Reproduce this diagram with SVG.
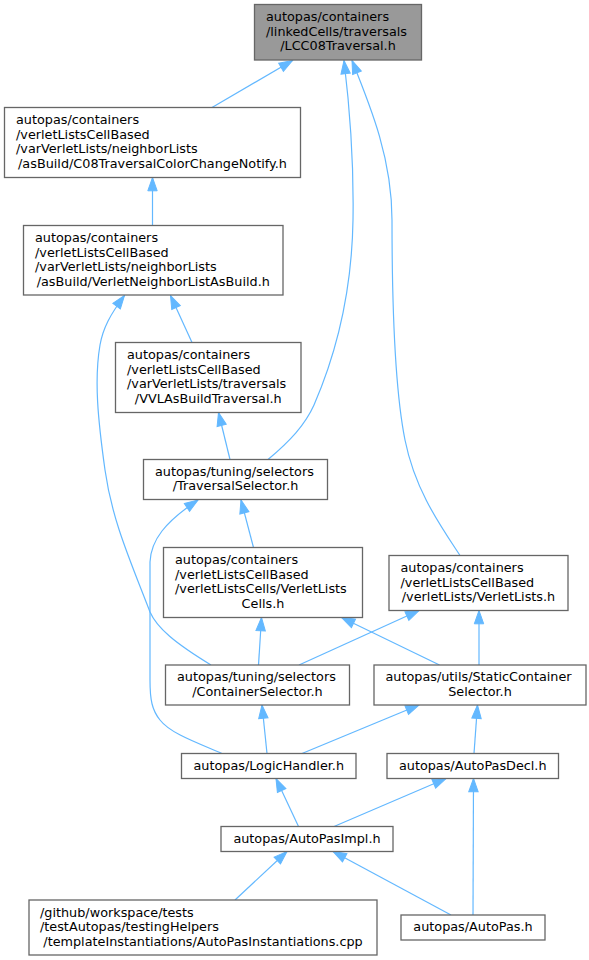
<svg xmlns="http://www.w3.org/2000/svg" width="589" height="960" viewBox="0 0 589 960">
<defs>
<style>
.n rect{fill:#ffffff;stroke:#666666;stroke-width:1.3}
#nA rect{fill:#999999}
text{font-family:"DejaVu Sans","Liberation Sans",sans-serif;font-size:12.8px;fill:#000}
.m{text-anchor:middle}
.e path{fill:none;stroke:#63b8ff;stroke-width:1.2;marker-end:url(#arr)}
</style>
<marker id="arr" markerUnits="userSpaceOnUse" markerWidth="16" markerHeight="12" refX="13.3" refY="5" orient="auto" overflow="visible">
<path d="M0,0.3 L13.3,5 L0,9.7 Z" fill="#63b8ff" stroke="#63b8ff" stroke-width="1"/>
</marker>
</defs>
<rect width="589" height="960" fill="#ffffff"/>
<g id="edges" class="e">
<path d="M212,107.5 L292.5,60.5"/>
<path d="M268,459.5 C290,441 305,425 314,405 C340,345 352,280 353,220 C354,160 350,110 344,60.5"/>
<path d="M460,555.5 C440,525 415,490 405,440 C395,390 392,300 392,220 C392,160 372,110 352,60.5"/>
<path d="M152.5,225.5 L152.5,177.5"/>
<path d="M192,342.5 L170.5,295.5"/>
<path d="M211,665 C175,643 157,628 150,612 C130,560 112,520 105,470 C98,420 94,380 100,345 C103,328 110,315 124.5,295.5"/>
<path d="M230,459.5 L218.5,412.5"/>
<path d="M253.5,547.5 L241,500"/>
<path d="M222,753.5 C195,742 170,733 160,720 C152,710 150,700 150,680 L150,562 C151,540 165,522 198,500"/>
<path d="M258.5,665 L261.5,617.5"/>
<path d="M439.5,665 L341.5,617.5"/>
<path d="M299,665 L419,610.5"/>
<path d="M479,665 L479,610.5"/>
<path d="M267,753.5 L262,705"/>
<path d="M302,753.5 L419,705"/>
<path d="M474,753.5 L477.5,705"/>
<path d="M298.5,826.5 L276,778.5"/>
<path d="M334,826.5 L446,778.5"/>
<path d="M473,915 L473.5,778.5"/>
<path d="M235,900 L287,851.5"/>
<path d="M451,915 L333,851.5"/>
</g>
<g id="nA" class="n">
<rect x="254.5" y="4.5" width="167" height="55.5"/>
<text x="266" y="21.25">autopas/containers</text>
<text x="266" y="35.75">/linkedCells/traversals</text>
<text class="m" x="338" y="50.25">/LCC08Traversal.h</text>
</g>
<g id="nB" class="n">
<rect x="4.5" y="107.5" width="296" height="70"/>
<text x="16" y="124.25">autopas/containers</text>
<text x="16" y="138.75">/verletListsCellBased</text>
<text x="16" y="153.25">/varVerletLists/neighborLists</text>
<text class="m" x="152.5" y="167.75">/asBuild/C08TraversalColorChangeNotify.h</text>
</g>
<g id="nC" class="n">
<rect x="23.5" y="225.5" width="259.5" height="69.5"/>
<text x="35" y="242">autopas/containers</text>
<text x="35" y="256.5">/verletListsCellBased</text>
<text x="35" y="271">/varVerletLists/neighborLists</text>
<text class="m" x="153.25" y="285.5">/asBuild/VerletNeighborListAsBuild.h</text>
</g>
<g id="nD" class="n">
<rect x="115.5" y="342.5" width="185.5" height="70"/>
<text x="127" y="359.25">autopas/containers</text>
<text x="127" y="373.75">/verletListsCellBased</text>
<text x="127" y="388.25">/varVerletLists/traversals</text>
<text class="m" x="208.25" y="402.75">/VVLAsBuildTraversal.h</text>
</g>
<g id="nE" class="n">
<rect x="143.5" y="459.5" width="184" height="40"/>
<text x="155" y="475.75">autopas/tuning/selectors</text>
<text class="m" x="235.5" y="490.25">/TraversalSelector.h</text>
</g>
<g id="nF" class="n">
<rect x="163.5" y="547.5" width="199" height="70"/>
<text x="175" y="564.25">autopas/containers</text>
<text x="175" y="578.75">/verletListsCellBased</text>
<text x="175" y="593.25">/verletListsCells/VerletLists</text>
<text class="m" x="263" y="607.75">Cells.h</text>
</g>
<g id="nG" class="n">
<rect x="389" y="555.5" width="179" height="55"/>
<text x="400.5" y="572">autopas/containers</text>
<text x="400.5" y="586.5">/verletListsCellBased</text>
<text class="m" x="478.5" y="601">/verletLists/VerletLists.h</text>
</g>
<g id="nH" class="n">
<rect x="165.5" y="665" width="184" height="40"/>
<text x="177" y="681.25">autopas/tuning/selectors</text>
<text class="m" x="257.5" y="695.75">/ContainerSelector.h</text>
</g>
<g id="nI" class="n">
<rect x="374" y="665" width="212" height="40"/>
<text x="385.5" y="681.25">autopas/utils/StaticContainer</text>
<text class="m" x="480" y="695.75">Selector.h</text>
</g>
<g id="nJ" class="n">
<rect x="181.5" y="753.5" width="174.5" height="25"/>
<text class="m" x="268.75" y="769.5">autopas/LogicHandler.h</text>
</g>
<g id="nK" class="n">
<rect x="387" y="753.5" width="171.5" height="25"/>
<text class="m" x="472.75" y="769.5">autopas/AutoPasDecl.h</text>
</g>
<g id="nL" class="n">
<rect x="221" y="826.5" width="172" height="25"/>
<text class="m" x="307" y="842.5">autopas/AutoPasImpl.h</text>
</g>
<g id="nM" class="n">
<rect x="29" y="900" width="348" height="55"/>
<text x="40" y="916.5">/github/workspace/tests</text>
<text x="40" y="931">/testAutopas/testingHelpers</text>
<text class="m" x="203" y="945.5">/templateInstantiations/AutoPasInstantiations.cpp</text>
</g>
<g id="nN" class="n">
<rect x="401" y="915" width="144" height="25"/>
<text class="m" x="473" y="931">autopas/AutoPas.h</text>
</g>
</svg>
